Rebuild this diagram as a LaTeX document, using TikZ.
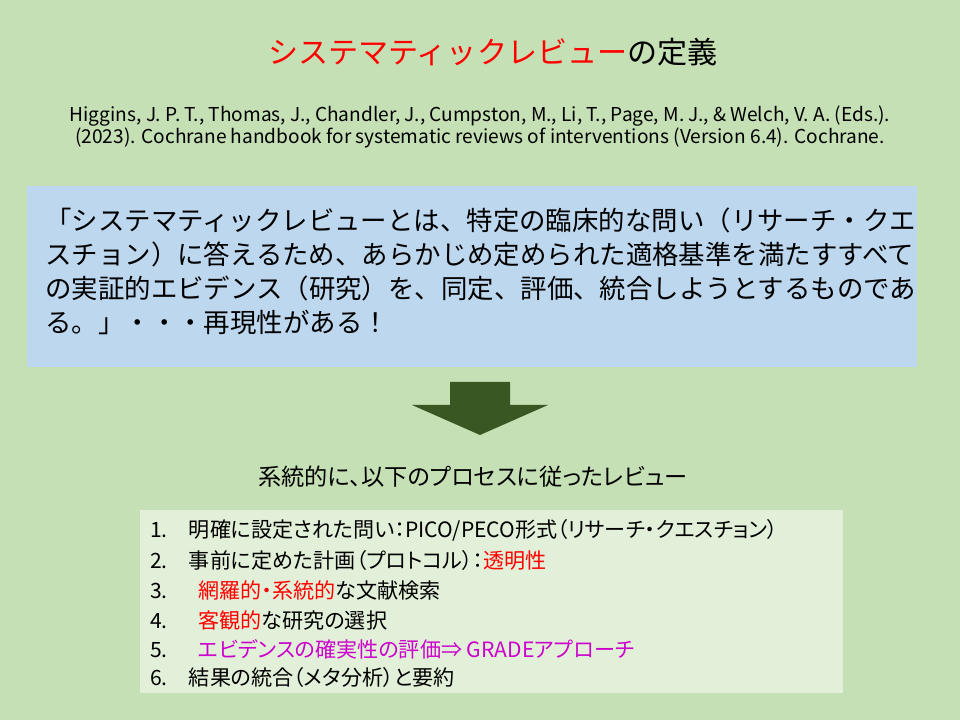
\documentclass[tikz,border=0pt]{standalone}
\usepackage{fontspec}
\setmainfont{Noto Sans CJK JP}
\newfontfamily\listfont[RawFeature=+palt]{Noto Sans CJK JP}
\definecolor{bggreen}{RGB}{197,224,180}
\definecolor{boxblue}{RGB}{189,215,238}
\definecolor{listgreen}{RGB}{226,240,217}
\definecolor{arrowgreen}{RGB}{56,87,35}
\definecolor{titlered}{RGB}{255,0,0}
\definecolor{gradepurple}{RGB}{204,0,204}
\usetikzlibrary{positioning}
\begin{document}
\begin{tikzpicture}[x=0.025cm,y=-0.025cm,
    quote/.style={anchor=west, inner sep=0pt, font=\fontsize{18.8}{22}\selectfont},
    item/.style={anchor=west, inner sep=0pt, font=\listfont\fontsize{15}{18}\selectfont}]
    % Background
    \fill[bggreen] (0,0) rectangle (960,720);
    \useasboundingbox (0,0) rectangle (960,720);

    % Title and source
    \node[font=\fontsize{21.4}{25}\selectfont] (title) at (493,52)
        {\textcolor{titlered}{システマティックレビュー}の定義};
    \node[font=\fontsize{13.6}{16}\selectfont, align=center] (source) at (480,127)
        {Higgins, J. P. T., Thomas, J., Chandler, J., Cumpston, M., Li, T., Page, M. J., \& Welch, V. A. (Eds.).\\
         (2023). Cochrane handbook for systematic reviews of interventions (Version 6.4). Cochrane.};

    % Definition box
    \fill[boxblue] (27,186) rectangle (917,367);
    \node[quote] (q1) at (45,220) {「システマティックレビューとは、特定の臨床的な問い（リサーチ・クエ};
    \node[quote] (q2) at (45,254) {スチョン）に答えるため、あらかじめ定められた適格基準を満たすすべて};
    \node[quote] (q3) at (45,288) {の実証的エビデンス（研究）を、同定、評価、統合しようとするものであ};
    \node[quote] (q4) at (45,322) {る。」・・・再現性がある！};

    % Block arrow
    \fill[arrowgreen] (450,382) -- (510,382) -- (510,405) -- (548,405)
        -- (480,435) -- (412,405) -- (450,405) -- cycle;

    \node[font=\listfont\fontsize{16.5}{19}\selectfont] (process) at (473,477)
        {系統的に、以下のプロセスに従ったレビュー};

    % Process list
    \fill[listgreen] (140,510) rectangle (843,693);
    \node[item] (s1) at (150,530) {1.\quad 明確に設定された問い：PICO/PECO形式（リサーチ・クエスチョン）};
    \node[item] (s2) at (150,560) {2.\quad 事前に定めた計画（プロトコル）：\textcolor{titlered}{透明性}};
    \node[item] (s3) at (150,590) {3.\quad\ \ \textcolor{titlered}{網羅的・系統的}な文献検索};
    \node[item] (s4) at (150,620) {4.\quad\ \ \textcolor{titlered}{客観的}な研究の選択};
    \node[item] (s5) at (150,649) {5.\quad\ \ \textcolor{gradepurple}{エビデンスの確実性の評価⇒ GRADEアプローチ}};
    \node[item] (s6) at (150,677) {6.\quad 結果の統合（メタ分析）と要約};
\end{tikzpicture}
\end{document}
